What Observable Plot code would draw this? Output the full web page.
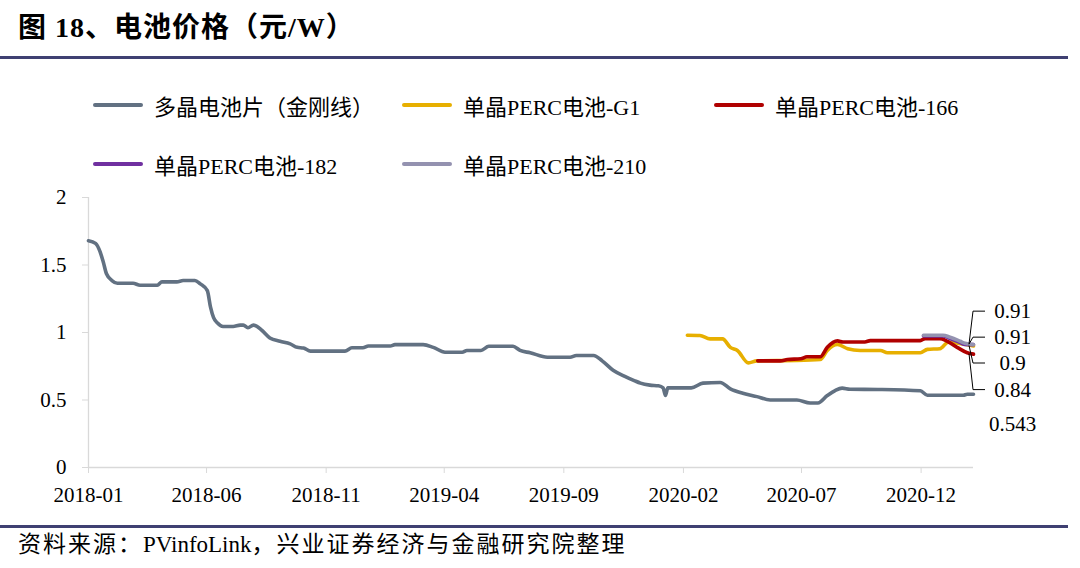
<!DOCTYPE html>
<html>
<head>
<meta charset="utf-8">
<script src="https://cdn.jsdelivr.net/npm/d3@7"></script>
<script src="https://cdn.jsdelivr.net/npm/@observablehq/plot@0.6"></script>
<style>
  body { margin:0; background:#fff; width:1080px; height:568px; position:relative; overflow:hidden;
         font-family:"Liberation Serif","Noto Sans CJK SC",serif; color:#000; }
  #title { position:absolute; left:18px; top:11px; font-size:28px; font-weight:bold; line-height:34px; white-space:nowrap; letter-spacing:1px; }
  .rule { position:absolute; left:0; width:1068px; height:3px; background:#3f4072; }
  .leg { position:absolute; font-size:22px; white-space:nowrap; display:flex; align-items:center; height:26px; }
  .sw { width:50px; height:4px; border-radius:2px; margin-right:11px; }
  #foot { position:absolute; left:18px; top:530px; font-size:23px; line-height:30px; white-space:nowrap; }
  #foot .c { letter-spacing:2px; }
  #chart { position:absolute; left:0; top:180px; }
</style>
</head>
<body>
<div id="title">图 18、电池价格（元/W）</div>
<div class="rule" style="top:56px"></div>
<div id="legend"></div>
<div id="chart"></div>
<div class="rule" style="top:525px"></div>
<div id="foot"><span class="c">资料来源：</span>PVinfoLink<span class="c">，兴业证券经济与金融研究院整理</span></div>
<script>
// ---- data ----
const seriesNames = ["多晶电池片（金刚线）", "单晶PERC电池-G1", "单晶PERC电池-166", "单晶PERC电池-182", "单晶PERC电池-210"];
const seriesColors = ["#627182", "#E7AF00", "#B00000", "#7030A0", "#9492B0"];

const polyDates = ["2018-01-01","2018-01-10","2018-01-16","2018-01-20","2018-01-24","2018-01-31","2018-02-07","2018-02-27","2018-03-08","2018-03-30","2018-04-05","2018-04-24","2018-05-02","2018-05-17","2018-05-24","2018-06-02","2018-06-06","2018-06-10","2018-06-15","2018-06-22","2018-07-05","2018-07-14","2018-07-18","2018-07-24","2018-07-31","2018-08-11","2018-08-21","2018-09-03","2018-09-16","2018-09-25","2018-10-03","2018-10-12","2018-11-25","2018-12-04","2018-12-18","2018-12-25","2019-01-22","2019-01-28","2019-03-05","2019-03-18","2019-04-02","2019-04-24","2019-04-30","2019-05-18","2019-05-28","2019-06-28","2019-07-07","2019-07-20","2019-08-11","2019-09-09","2019-09-17","2019-10-09","2019-10-20","2019-11-03","2019-11-18","2019-11-30","2019-12-08","2019-12-20","2019-12-31","2020-01-06","2020-01-09","2020-01-12","2020-02-11","2020-02-26","2020-03-19","2020-04-01","2020-04-17","2020-05-05","2020-05-22","2020-06-25","2020-07-12","2020-07-22","2020-08-03","2020-08-13","2020-08-22","2020-09-01","2020-10-07","2020-11-30","2020-12-09","2021-01-24","2021-01-29","2021-02-06"];
const polyValues = [1.68,1.66,1.595,1.52,1.435,1.385,1.365,1.365,1.35,1.35,1.375,1.375,1.385,1.385,1.36,1.31,1.19,1.11,1.07,1.045,1.045,1.055,1.055,1.035,1.055,1.015,0.96,0.935,0.916,0.89,0.885,0.862,0.862,0.887,0.887,0.9,0.9,0.91,0.91,0.89,0.854,0.854,0.867,0.867,0.898,0.898,0.867,0.85,0.817,0.817,0.83,0.83,0.79,0.72,0.675,0.644,0.625,0.61,0.605,0.59,0.533,0.59,0.59,0.625,0.63,0.583,0.55,0.525,0.5,0.5,0.478,0.478,0.533,0.57,0.588,0.58,0.578,0.568,0.535,0.535,0.543,0.543];

const g1Dates = ["2020-02-06","2020-02-22","2020-03-06","2020-03-22","2020-04-01","2020-04-10","2020-04-24","2020-05-05","2020-06-25","2020-07-25","2020-08-03","2020-08-16","2020-08-29","2020-09-14","2020-10-10","2020-10-19","2020-11-30","2020-12-09","2020-12-25","2021-01-05","2021-01-17","2021-02-06"];
const g1Values = [0.98,0.978,0.953,0.953,0.89,0.867,0.775,0.79,0.793,0.8,0.867,0.911,0.88,0.867,0.867,0.85,0.85,0.875,0.88,0.93,0.92,0.9];

const m166Dates = ["2020-05-06","2020-06-04","2020-06-13","2020-06-30","2020-07-08","2020-07-25","2020-08-03","2020-08-16","2020-08-23","2020-09-20","2020-09-27","2020-11-30","2020-12-06","2020-12-25","2021-01-16","2021-01-29","2021-02-06"];
const m166Values = [0.79,0.79,0.8,0.805,0.82,0.82,0.89,0.938,0.93,0.93,0.94,0.94,0.955,0.955,0.89,0.85,0.84];

const m182Dates = ["2020-12-04","2020-12-29","2021-01-07","2021-01-20","2021-01-26","2021-02-06"];
const m182Values = [0.975,0.975,0.955,0.925,0.912,0.91];

const m210Dates = ["2020-12-04","2020-12-29","2021-01-07","2021-01-20","2021-01-26","2021-02-06"];
const m210Values = [0.98,0.98,0.965,0.935,0.92,0.91];

const xTickLabels = ["2018-01","2018-06","2018-11","2019-04","2019-09","2020-02","2020-07","2020-12"];
const yTicks = [0, 0.5, 1, 1.5, 2];

// ---- build table ----
const seriesData = [
  [polyDates, polyValues], [g1Dates, g1Values], [m166Dates, m166Values],
  [m182Dates, m182Values], [m210Dates, m210Values]
];
const rows = [];
seriesData.forEach(([ds, vs], i) => ds.forEach((d, j) => rows.push({date: new Date(d), value: vs[j], series: seriesNames[i]})));
const lastRows = seriesData.map(([ds, vs], i) => ({date: new Date(ds[ds.length-1]), value: vs[vs.length-1], series: seriesNames[i]}));

// ---- legend ----
const legendPos = [[93,92],[402,92],[714,92],[93,151],[402,151]];
const legend = document.getElementById("legend");
seriesNames.forEach((n, i) => {
  const el = document.createElement("div");
  el.className = "leg";
  el.style.left = legendPos[i][0] + "px";
  el.style.top = legendPos[i][1] + "px";
  el.innerHTML = `<div class="sw" style="background:${seriesColors[i]}"></div><span>${n}</span>`;
  legend.appendChild(el);
});

// ---- chart ----
const xStart = new Date("2018-01-01"), xEnd = new Date("2021-02-06");
const labelDy = [30, 17.5, 36, -33, -7]; // pixel offsets of end labels, per series
const leaderFor = [false, true, true, true, true];

function leaders(index, scales) {
  const g = d3.create("svg:g").attr("fill", "none").attr("stroke", "#000").attr("stroke-width", 1);
  lastRows.forEach((r, i) => {
    if (!leaderFor[i]) return;
    const x = scales.x(r.date), y = scales.y(r.value), L = y + labelDy[i];
    g.append("path").attr("d", `M${x-4},${y}L${x},${L}L${x+12},${L}`);
  });
  return g.node();
}

const marks = [
  Plot.ruleY([0], {stroke: "#d9d9d9", strokeWidth: 1.3}),
  Plot.ruleX([xStart], {stroke: "#d9d9d9", strokeWidth: 1.3}),
  Plot.axisX({ticks: xTickLabels.map(s => new Date(s + "-01")), tickFormat: d3.utcFormat("%Y-%m"),
              tickSize: 6, tickPadding: 14, stroke: "#d9d9d9", fill: "#000", fontSize: 21, label: null}),
  Plot.axisY({ticks: yTicks, tickFormat: d => String(d), tickSize: 6, tickPadding: 16,
              stroke: "#d9d9d9", fill: "#000", fontSize: 21, label: null}),
  Plot.line(rows, {x: "date", y: "value", z: "series", stroke: "series", strokeWidth: 3.6,
                   curve: "monotone-x", strokeLinejoin: "round", strokeLinecap: "round"}),
  leaders
];
lastRows.forEach((r, i) => {
  marks.push(Plot.text([r], {x: "date", y: "value", text: d => String(d.value), dx: 39, dy: labelDy[i],
                             fontSize: 21, fill: "#000", textAnchor: "middle"}));
});

const chart = Plot.plot({
  width: 1080, height: 340,
  marginTop: 17, marginBottom: 53, marginLeft: 88, marginRight: 107,
  style: {fontFamily: '"Liberation Serif","Noto Sans CJK SC",serif', fontSize: "21px", color: "#000", background: "transparent", overflow: "visible"},
  x: {type: "utc", domain: [xStart, xEnd]},
  y: {domain: [0, 2]},
  color: {domain: seriesNames, range: seriesColors},
  marks
});
document.getElementById("chart").appendChild(chart);
</script>
</body>
</html>
